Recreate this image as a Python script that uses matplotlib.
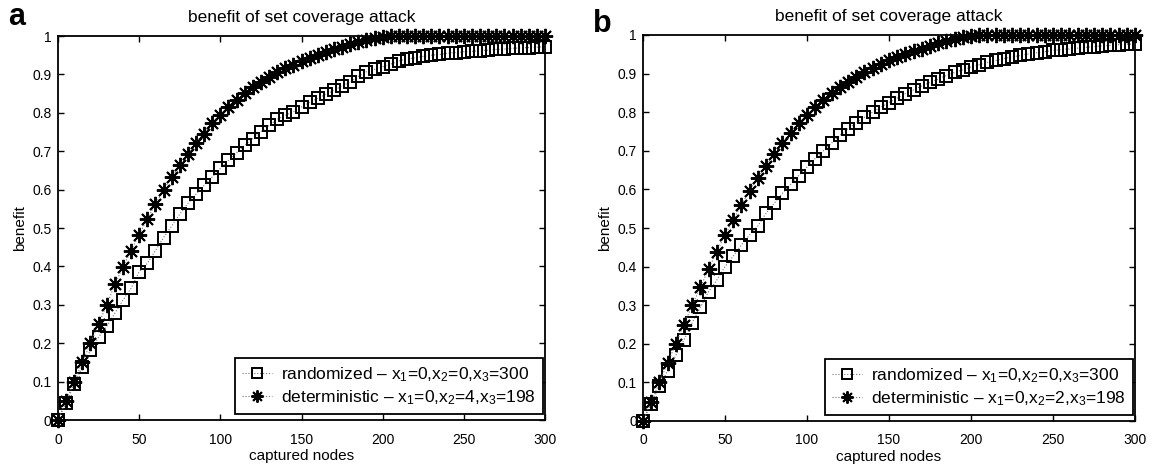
import numpy as np
import matplotlib
matplotlib.use("Agg")
import matplotlib.pyplot as plt

plt.rcParams['font.family'] = ['Liberation Sans', 'DejaVu Sans']
plt.rcParams['mathtext.fontset'] = 'custom'
plt.rcParams['mathtext.rm'] = 'Liberation Sans'
plt.rcParams['mathtext.it'] = 'Liberation Sans:italic'

nodes = list(range(0, 301, 5))

rand_a = [0, 0.044, 0.094, 0.138, 0.182, 0.216, 0.244, 0.278, 0.312, 0.343,
          0.386, 0.408, 0.441, 0.475, 0.505, 0.536, 0.564, 0.588, 0.611, 0.633,
          0.655, 0.676, 0.696, 0.715, 0.733, 0.751, 0.767, 0.783, 0.793, 0.803,
          0.815, 0.827, 0.838, 0.848, 0.859, 0.870, 0.880, 0.895, 0.907, 0.913,
          0.920, 0.927, 0.935, 0.940, 0.943, 0.947, 0.950, 0.952, 0.955, 0.957,
          0.959, 0.960, 0.962, 0.963, 0.965, 0.966, 0.968, 0.969, 0.970, 0.971,
          0.972]
det_a = [0, 0.05, 0.10, 0.15, 0.20, 0.25, 0.30, 0.353, 0.398, 0.441,
         0.483, 0.523, 0.5625, 0.599, 0.632, 0.663, 0.693, 0.722, 0.746, 0.773,
         0.794, 0.814, 0.833, 0.851, 0.866, 0.880, 0.893, 0.905, 0.916, 0.925,
         0.934, 0.943, 0.951, 0.958, 0.965, 0.972, 0.978, 0.984, 0.989, 0.994,
         0.998, 1.0, 1.0, 1.0, 1.0, 1.0, 1.0, 1.0, 1.0, 1.0,
         1.0, 1.0, 1.0, 1.0, 1.0, 1.0, 1.0, 1.0, 1.0, 1.0,
         1.0]
rand_b = [0, 0.045, 0.09, 0.13, 0.17, 0.21, 0.255, 0.295, 0.335, 0.365,
          0.40, 0.427, 0.456, 0.482, 0.505, 0.538, 0.564, 0.590, 0.613, 0.636,
          0.658, 0.680, 0.700, 0.720, 0.740, 0.757, 0.773, 0.787, 0.800, 0.813,
          0.825, 0.837, 0.848, 0.858, 0.868, 0.877, 0.886, 0.895, 0.903, 0.910,
          0.917, 0.923, 0.929, 0.934, 0.939, 0.943, 0.947, 0.951, 0.954, 0.957,
          0.960, 0.962, 0.964, 0.966, 0.968, 0.970, 0.972, 0.973, 0.975, 0.976,
          0.977]
det_b = [0, 0.05, 0.10, 0.15, 0.20, 0.25, 0.30, 0.346, 0.394, 0.439,
         0.482, 0.521, 0.560, 0.597, 0.629, 0.661, 0.691, 0.720, 0.745, 0.771,
         0.793, 0.813, 0.832, 0.850, 0.865, 0.879, 0.892, 0.904, 0.915, 0.925,
         0.934, 0.943, 0.951, 0.958, 0.965, 0.972, 0.978, 0.984, 0.989, 0.994,
         0.998, 1.0, 1.0, 1.0, 1.0, 1.0, 1.0, 1.0, 1.0, 1.0,
         1.0, 1.0, 1.0, 1.0, 1.0, 1.0, 1.0, 1.0, 1.0, 1.0,
         1.0]

labels_a = [r"randomized – x$_1$=0,x$_2$=0,x$_3$=300",
            r"deterministic – x$_1$=0,x$_2$=4,x$_3$=198"]
labels_b = [r"randomized – x$_1$=0,x$_2$=0,x$_3$=300",
            r"deterministic – x$_1$=0,x$_2$=2,x$_3$=198"]

title = "benefit of set coverage attack"
xticks = [0, 50, 100, 150, 200, 250, 300]
yticks = [0, 0.1, 0.2, 0.3, 0.4, 0.5, 0.6, 0.7, 0.8, 0.9, 1]
yticklabels = ["0", "0.1", "0.2", "0.3", "0.4", "0.5", "0.6", "0.7", "0.8", "0.9", "1"]

W, H = 1155, 467
fig = plt.figure(figsize=(W / 100, H / 100), dpi=100)

def fx(px):
    return px / W

def fy(py):
    return 1 - py / H

panels = [
    ("a", (58, 545, 36, 420), rand_a, det_a, labels_a, (8, 25)),
    ("b", (643, 1135, 35, 421), rand_b, det_b, labels_b, (593, 32)),
]

for letter, (x0, x1, y0, y1), r, d, labs, (lx, ly) in panels:
    ax = fig.add_axes([fx(x0), fy(y1), fx(x1 - x0), (y1 - y0) / H])
    ax.plot(nodes, r, linestyle=':', color='#777777', linewidth=0.8,
            marker='s', markersize=8.5, markerfacecolor='none',
            markeredgecolor='black', markeredgewidth=1.4, label=labs[0],
            clip_on=False)
    ax.plot(nodes, d, linestyle=':', color='#777777', linewidth=0.8,
            marker=(8, 2, 0), markersize=11,
            markeredgecolor='black', markeredgewidth=1.4, label=labs[1],
            clip_on=False)
    ax.set_xlim(0, 300)
    ax.set_ylim(0, 1)
    ax.set_xticks(xticks)
    ax.set_yticks(yticks)
    ax.set_yticklabels(yticklabels)
    ax.tick_params(direction='in', top=True, right=True, length=4,
                   width=1.0, labelsize=10)
    ax.tick_params(axis='x', pad=9)
    ax.tick_params(axis='y', pad=4.5)
    for sp in ax.spines.values():
        sp.set_linewidth(1.3)
    ax.set_title(title, fontsize=12.5, pad=10)
    ax.set_xlabel("captured nodes", fontsize=11, labelpad=2)
    ax.set_ylabel("benefit", fontsize=11, labelpad=4)
    w_ax = x1 - x0
    h_ax = y1 - y0
    leg = ax.legend(loc='lower right', fontsize=12.5, frameon=True,
                    fancybox=False, edgecolor='black', framealpha=1,
                    handlelength=1.7, handletextpad=0.55, borderpad=0.4,
                    labelspacing=0.25, borderaxespad=0, markerscale=0.8,
                    bbox_to_anchor=((w_ax - 2) / w_ax, 6 / h_ax))
    leg.get_frame().set_linewidth(1.3)
    fig.text(fx(lx), fy(ly), letter, fontsize=22, fontweight='bold',
             ha='left', va='baseline')

fig.savefig("out.png", dpi=100)
